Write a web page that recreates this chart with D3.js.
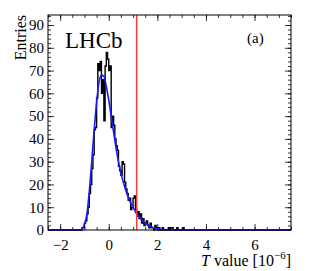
<!DOCTYPE html>
<html>
<head>
<meta charset="utf-8">
<title>T value</title>
<script src="https://d3js.org/d3.v7.min.js"></script>
<style>
body { margin: 0; background: #fff; }
</style>
</head>
<body>
<div id="chart"></div>
<script>
// histogram: lower bin edges (width 0.05) and entries
var binStart = -1.2;
var binWidth = 0.05;
var counts = [0, 0, 1, 1, 3, 4, 7, 10, 16, 20, 27, 33, 44, 45, 58, 73, 70, 74, 60, 66,
	48, 72, 78, 75, 70, 72, 45, 50, 46, 40, 37, 35, 28, 26, 24, 30, 29, 21, 18, 16,
	13, 14, 9, 10, 14, 15, 9, 6, 8, 5, 7, 3, 5, 2, 3, 4, 2, 1, 3, 1,
	1, 0, 2, 1, 0, 1, 0, 0, 1, 0, 0, 0, 0, 1, 0, 1, 1, 0, 0, 0,
	1, 0, 0, 0, 0, 1, 0];

// fit curve points
var fitX = [-2.5, -1.2, -1.1, -1.0, -0.9, -0.8, -0.7, -0.6, -0.5, -0.4, -0.3, -0.2, -0.1, 0.0,
	0.1, 0.2, 0.3, 0.4, 0.5, 0.6, 0.7, 0.8, 0.9, 1.0, 1.1, 1.2, 1.3, 1.4, 1.5, 1.6, 1.7,
	1.8, 1.9, 2.0, 2.2, 2.4, 2.6, 7.5];
var fitY = [0, 0, 0.5, 2.5, 7, 17, 30, 44, 56, 65, 68, 67.5, 63, 57,
	50, 43, 36, 30, 25, 21, 17.5, 14.5, 12, 10, 8, 6.5, 5.2, 4, 3, 2.3, 1.7,
	1.2, 0.9, 0.6, 0.3, 0.1, 0, 0];

var cutValue = 1.15;
var xTicks = [-2, 0, 2, 4, 6];
var yTicks = [0, 10, 20, 30, 40, 50, 60, 70, 80, 90];

var serif = "'Liberation Serif', serif";
var width = 324, height = 271;
var margin = {left: 48, right: 33, top: 15, bottom: 41};
var pw = width - margin.left - margin.right;
var ph = height - margin.top - margin.bottom;

var svg = d3.select("#chart").append("svg").attr("width", width).attr("height", height)
	.attr("font-family", serif);
var g = svg.append("g").attr("transform", "translate(" + margin.left + "," + margin.top + ")");

var x = d3.scaleLinear().domain([-2.5, 7.5]).range([0, pw]);
var y = d3.scaleLinear().domain([0, 94.4]).range([ph, 0]);

// ticks inside frame on all sides
var xMinor = d3.range(-2.5, 7.51, 0.5);
var yMinor = d3.range(0, 94.4, 2);

g.append("g").attr("transform", "translate(0," + ph + ")")
	.call(d3.axisBottom(x).tickValues(xMinor).tickSize(-3).tickFormat(""));
g.append("g").attr("transform", "translate(0," + ph + ")")
	.call(d3.axisBottom(x).tickValues(xTicks).tickSize(-6).tickPadding(9).tickFormat(d3.format("")));
g.append("g")
	.call(d3.axisTop(x).tickValues(xMinor).tickSize(-3).tickFormat(""));
g.append("g")
	.call(d3.axisTop(x).tickValues(xTicks).tickSize(-6).tickFormat(""));

g.append("g")
	.call(d3.axisLeft(y).tickValues(yMinor).tickSize(-3).tickFormat(""));
g.append("g")
	.call(d3.axisLeft(y).tickValues(yTicks).tickSize(-6).tickPadding(4).tickFormat(d3.format("")));
g.append("g").attr("transform", "translate(" + pw + ",0)")
	.call(d3.axisRight(y).tickValues(yMinor).tickSize(-3).tickFormat(""));
g.append("g").attr("transform", "translate(" + pw + ",0)")
	.call(d3.axisRight(y).tickValues(yTicks).tickSize(-6).tickFormat(""));

g.selectAll(".domain").remove();
g.selectAll("g").attr("font-family", serif).attr("font-size", 15);
g.selectAll(".tick line").attr("stroke", "#000").attr("stroke-width", 0.8);
g.selectAll(".tick text").attr("fill", "#000");

// histogram as a step outline
var steps = [[-2.5, 0], [binStart, 0]];
counts.forEach(function(c, i) {
	var x0 = binStart + i * binWidth;
	steps.push([x0, c]);
	steps.push([x0 + binWidth, c]);
});
steps.push([binStart + counts.length * binWidth, 0]);
steps.push([7.5, 0]);

var line = d3.line().x(function(d) { return x(d[0]); }).y(function(d) { return y(d[1]); });
g.append("path").datum(steps).attr("d", line)
	.attr("fill", "none").attr("stroke", "#000").attr("stroke-width", 1.4);

// fit
var fitLine = d3.line().x(function(d) { return x(d[0]); }).y(function(d) { return y(d[1]); })
	.curve(d3.curveMonotoneX);
g.append("path").datum(fitX.map(function(v, i) { return [v, fitY[i]]; })).attr("d", fitLine)
	.attr("fill", "none").attr("stroke", "#1a1aff").attr("stroke-width", 1.6);

// cut
g.append("line").attr("x1", x(cutValue)).attr("x2", x(cutValue)).attr("y1", 0).attr("y2", ph)
	.attr("stroke", "#ff3b3b").attr("stroke-width", 1.5);

// frame
g.append("rect").attr("width", pw).attr("height", ph)
	.attr("fill", "none").attr("stroke", "#000").attr("stroke-width", 1);

// labels
g.append("text").attr("x", 17).attr("y", 33).attr("font-size", 23).text("LHCb");
g.append("text").attr("x", 199).attr("y", 28).attr("font-size", 15).text("(a)");

svg.append("text").attr("transform", "translate(26," + margin.top + ") rotate(-90)")
	.attr("text-anchor", "end").attr("font-size", 16).text("Entries");

var xl = svg.append("text").attr("x", margin.left + pw).attr("y", 266)
	.attr("text-anchor", "end").attr("font-size", 16);
xl.append("tspan").attr("font-style", "italic").text("T");
xl.append("tspan").text(" value [10");
xl.append("tspan").attr("font-size", 11).attr("dy", -7).text("\u22126");
xl.append("tspan").attr("dy", 7).text("]");
</script>
</body>
</html>
